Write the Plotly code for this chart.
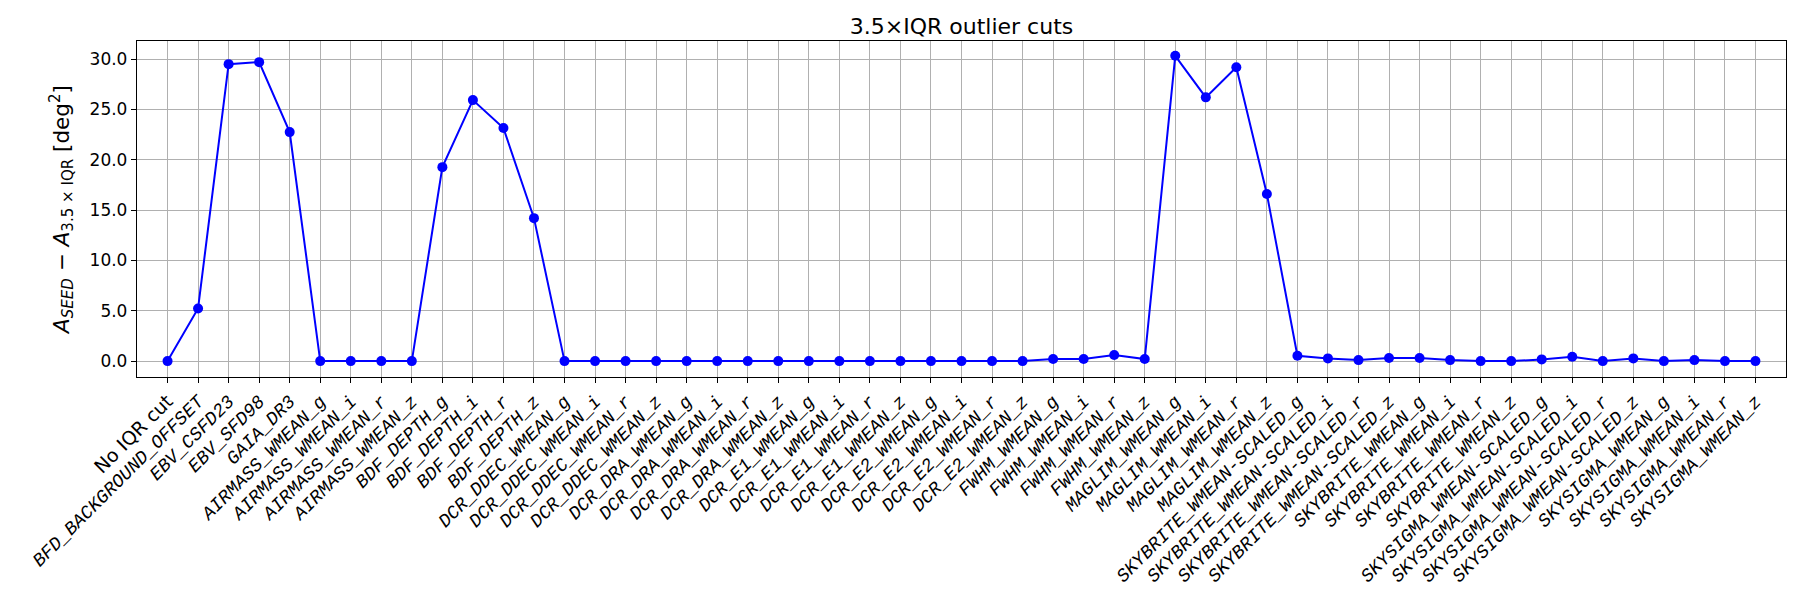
import plotly.graph_objects as go

categories = [
    "No IQR cut", "BFD_BACKGROUND_OFFSET", "EBV_CSFD23", "EBV_SFD98", "GAIA_DR3",
    "AIRMASS_WMEAN_g", "AIRMASS_WMEAN_i", "AIRMASS_WMEAN_r", "AIRMASS_WMEAN_z",
    "BDF_DEPTH_g", "BDF_DEPTH_i", "BDF_DEPTH_r", "BDF_DEPTH_z",
    "DCR_DDEC_WMEAN_g", "DCR_DDEC_WMEAN_i", "DCR_DDEC_WMEAN_r", "DCR_DDEC_WMEAN_z",
    "DCR_DRA_WMEAN_g", "DCR_DRA_WMEAN_i", "DCR_DRA_WMEAN_r", "DCR_DRA_WMEAN_z",
    "DCR_E1_WMEAN_g", "DCR_E1_WMEAN_i", "DCR_E1_WMEAN_r", "DCR_E1_WMEAN_z",
    "DCR_E2_WMEAN_g", "DCR_E2_WMEAN_i", "DCR_E2_WMEAN_r", "DCR_E2_WMEAN_z",
    "FWHM_WMEAN_g", "FWHM_WMEAN_i", "FWHM_WMEAN_r", "FWHM_WMEAN_z",
    "MAGLIM_WMEAN_g", "MAGLIM_WMEAN_i", "MAGLIM_WMEAN_r", "MAGLIM_WMEAN_z",
    "SKYBRITE_WMEAN-SCALED_g", "SKYBRITE_WMEAN-SCALED_i", "SKYBRITE_WMEAN-SCALED_r", "SKYBRITE_WMEAN-SCALED_z",
    "SKYBRITE_WMEAN_g", "SKYBRITE_WMEAN_i", "SKYBRITE_WMEAN_r", "SKYBRITE_WMEAN_z",
    "SKYSIGMA_WMEAN-SCALED_g", "SKYSIGMA_WMEAN-SCALED_i", "SKYSIGMA_WMEAN-SCALED_r", "SKYSIGMA_WMEAN-SCALED_z",
    "SKYSIGMA_WMEAN_g", "SKYSIGMA_WMEAN_i", "SKYSIGMA_WMEAN_r", "SKYSIGMA_WMEAN_z",
]

values = [
    0.0, 5.23, 29.5, 29.7, 22.75,
    0.0, 0.0, 0.0, 0.0,
    19.27, 25.93, 23.15, 14.2,
    0.0, 0.0, 0.0, 0.0,
    0.0, 0.0, 0.0, 0.0,
    0.0, 0.0, 0.0, 0.0,
    0.0, 0.0, 0.0, 0.0,
    0.2, 0.2, 0.6, 0.2,
    30.33, 26.2, 29.2, 16.6,
    0.53, 0.27, 0.1, 0.3,
    0.3, 0.1, 0.0, 0.0,
    0.17, 0.43, 0.0, 0.27,
    0.0, 0.1, 0.0, 0.0,
]

y_ticks = [0, 5, 10, 15, 20, 25, 30]

x_idx = list(range(len(categories)))
tick_text = []
for c in categories:
    if c == "No IQR cut":
        tick_text.append("<span style='font-family:DejaVu Sans;font-size:19px'>" + c + "</span>")
    else:
        tick_text.append("<i>" + c + "</i>")

fig = go.Figure()
fig.add_trace(go.Scatter(
    x=x_idx, y=values, mode="lines+markers",
    line=dict(color="#0000ff", width=2),
    marker=dict(color="#0000ff", size=10),
    showlegend=False,
))

fig.update_layout(
    width=1800, height=600,
    paper_bgcolor="white", plot_bgcolor="white",
    margin=dict(l=137, r=14, t=41, b=223, autoexpand=False),
    font=dict(family="DejaVu Sans", color="black"),
    title=dict(text="3.5×IQR outlier cuts", x=961.5 / 1800, xanchor="center",
               y=(600 - 34) / 600, yanchor="bottom", yref="container",
               font=dict(size=22, family="DejaVu Sans", color="black")),
)

fig.update_xaxes(
    range=[-1, 53], automargin=False,
    tickmode="array", tickvals=x_idx, ticktext=tick_text,
    tickangle=-45,
    tickfont=dict(family="Liberation Mono", size=18.5, color="black"),
    ticks="outside", ticklen=5, tickcolor="black",
    showgrid=True, gridcolor="#b0b0b0", gridwidth=1,
    showline=True, linecolor="black", linewidth=1.3, mirror=True,
    zeroline=False,
)
fig.update_yaxes(
    range=[-1.58, 31.8], automargin=False,
    tickmode="array", tickvals=y_ticks, tickformat=".1f",
    tickfont=dict(family="DejaVu Sans", size=17, color="black"),
    ticks="outside", ticklen=5, tickcolor="black",
    showgrid=True, gridcolor="#b0b0b0", gridwidth=1,
    showline=True, linecolor="black", linewidth=1.3, mirror=True,
    zeroline=False,
    title=dict(
        text="<i>A</i><sub><i>SEED</i></sub> − <i>A</i><sub>3.5 × IQR</sub> [deg<sup>2</sup>]",
        font=dict(size=21.5, family="DejaVu Sans", color="black"),
        standoff=14,
    ),
)

fig.write_html(
    "out.html",
    config={"displayModeBar": False},
    post_script="document.body.style.margin='0';document.body.style.overflow='hidden';",
)
